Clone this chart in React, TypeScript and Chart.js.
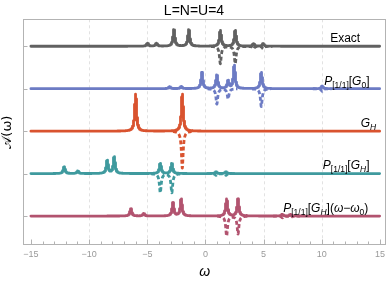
import React, { useEffect, useRef } from "react";
import { Chart, registerables } from "chart.js";
Chart.register(...registerables);

const chartTitle = "L=N=U=4";
const xAxisTitle = "ω";
const yAxisTitle = "𝒜(ω)";
const xTickValues = [-15, -10, -5, 0, 5, 10, 15];
const xGridValues = [-10, -5, 0, 5, 10];
const xMinorValues = [-15, -14, -13, -12, -11, -10, -9, -8, -7, -6, -5, -4, -3, -2, -1, 0, 1, 2, 3, 4, 5, 6, 7, 8, 9, 10, 11, 12, 13, 14, 15];
const yTickValues = [0, 1, 2, 3, 4];
const seriesOffsets = [4, 3, 2, 1, 0];
const seriesColors = ["#616161", "#6c7bc4", "#d9532f", "#3f9a9e", "#b2536f"];

// Exact
const exactUpPos = [-4.98, -4.21, -2.71, -1.43, 1.28, 2.56, 4.13, 4.96];
const exactUpHeight = [0.07, 0.07, 0.39, 0.39, 0.37, 0.37, 0.06, 0.06];
const exactDownPos = [1.28, 2.56, 4.13, 4.96];
const exactDownHeight = [0.41, 0.41, 0.06, 0.06];

// P[1/1][G0]
const g0UpPos = [-3.08, -2.08, -0.3, 0.98, 1.95, 2.48, 4.8, 10.03];
const g0UpHeight = [0.05, 0.05, 0.38, 0.32, 0.18, 0.55, 0.38, 0.06];
const g0DownPos = [0.98, 1.95, 4.8, 10.03];
const g0DownHeight = [0.36, 0.24, 0.42, 0.06];

// G_H
const ghUpPos = [-6.0, -1.99];
const ghUpHeight = [0.87, 0.87];
const ghDownPos = [-1.99];
const ghDownHeight = [0.87];

// P[1/1][G_H]
const pghUpPos = [-12.14, -10.97, -8.44, -7.84, -3.88, -2.89, 0.91, 1.77];
const pghUpHeight = [0.16, 0.06, 0.31, 0.39, 0.24, 0.24, 0.04, 0.04];
const pghDownPos = [-3.88, -2.89, 0.91, 1.77];
const pghDownHeight = [0.45, 0.45, 0.04, 0.04];

// P[1/1][G_H](ω-ω0)
const shUpPos = [-6.41, -5.3, -2.79, -2.08, 1.82, 2.8, 6.61, 7.32];
const shUpHeight = [0.17, 0.06, 0.31, 0.4, 0.4, 0.4, 0.04, 0.04];
const shDownPos = [1.82, 2.8, 6.61, 7.32];
const shDownHeight = [0.47, 0.42, 0.04, 0.04];

const upPositions = [exactUpPos, g0UpPos, ghUpPos, pghUpPos, shUpPos];
const upHeights = [exactUpHeight, g0UpHeight, ghUpHeight, pghUpHeight, shUpHeight];
const downPositions = [exactDownPos, g0DownPos, ghDownPos, pghDownPos, shDownPos];
const downHeights = [exactDownHeight, g0DownHeight, ghDownHeight, pghDownHeight, shDownHeight];

type Part = { t: string; it?: boolean; sub?: boolean };
const seriesLabels: Part[][] = [
  [{ t: "Exact" }],
  [{ t: "P", it: true }, { t: "[1/1]", sub: true }, { t: "[" }, { t: "G", it: true }, { t: "0", sub: true }, { t: "]" }],
  [{ t: "G", it: true }, { t: "H", it: true, sub: true }],
  [{ t: "P", it: true }, { t: "[1/1]", sub: true }, { t: "[" }, { t: "G", it: true }, { t: "H", it: true, sub: true }, { t: "]" }],
  [
    { t: "P", it: true }, { t: "[1/1]", sub: true }, { t: "[" }, { t: "G", it: true }, { t: "H", it: true, sub: true },
    { t: "](" }, { t: "ω", it: true }, { t: "−" }, { t: "ω", it: true }, { t: "0", sub: true }, { t: ")" },
  ],
];
// label anchor (right end x in ω units, vertical centre in y units)
const labelRightX = [13.3, 14.1, 14.67, 14.1, 14.0];
const labelCenterY = [4.19, 3.2, 2.19, 1.21, 0.2];

const X_MIN = -15.68;
const X_MAX = 15.56;
const Y_MIN = -0.682;
const Y_MAX = 4.635;
const GAMMA = 0.09;
const FONT = "'Liberation Sans', Arial, sans-serif";

function lor(x: number, pos: number[], h: number[]) {
  let s = 0;
  for (let i = 0; i < pos.length; i++) {
    const d = x - pos[i];
    s += (h[i] * GAMMA * GAMMA) / (d * d + GAMMA * GAMMA);
  }
  return s;
}

function xGrid(peaks: number[]) {
  const set = new Set<number>();
  for (let i = 0; i <= 1500; i++) set.add(Math.round((-15 + i * 0.02) * 1000) / 1000);
  for (const p of peaks) {
    for (let d = -0.8; d <= 0.8; d += 0.003) {
      const v = Math.round((p + d) * 1000) / 1000;
      if (v >= -15 && v <= 15) set.add(v);
    }
  }
  return Array.from(set).sort((a, b) => a - b);
}

function buildDatasets() {
  const ds: any[] = [];
  for (let s = 0; s < 5; s++) {
    const xs = xGrid(upPositions[s].concat(downPositions[s]));
    const off = seriesOffsets[s];
    const solid = xs.map((x) => ({ x, y: off + lor(x, upPositions[s], upHeights[s]) }));
    const dashed = xs.map((x) => {
      const near = downPositions[s].some((p) => Math.abs(x - p) <= 0.8);
      return { x, y: near ? off - lor(x, downPositions[s], downHeights[s]) : null };
    });
    ds.push({
      data: dashed,
      borderColor: seriesColors[s],
      borderWidth: 2.8,
      borderDash: [4, 2.5],
      pointRadius: 0,
      spanGaps: false,
      fill: false,
      tension: 0,
      borderJoinStyle: "round",
    });
    ds.push({
      data: solid,
      borderColor: seriesColors[s],
      borderWidth: 2.8,
      pointRadius: 0,
      fill: false,
      tension: 0,
      borderJoinStyle: "round",
      borderCapStyle: "round",
    });
  }
  return ds;
}

const decorPlugin = {
  id: "decor",
  beforeDatasetsDraw(chart: any) {
    const { ctx, chartArea: a, scales } = chart;
    const xs = scales.x;
    ctx.save();
    ctx.strokeStyle = "#e2e2e2";
    ctx.lineWidth = 1;
    ctx.setLineDash([3, 3]);
    for (const v of xGridValues) {
      const px = Math.round(xs.getPixelForValue(v)) + 0.5;
      ctx.beginPath();
      ctx.moveTo(px, a.top);
      ctx.lineTo(px, a.bottom);
      ctx.stroke();
    }
    ctx.restore();
  },
  afterDraw(chart: any) {
    const { ctx, chartArea: a, scales } = chart;
    const xs = scales.x;
    const ys = scales.y;
    ctx.save();
    ctx.strokeStyle = "#b3b3b3";
    ctx.lineWidth = 1;
    ctx.setLineDash([]);
    ctx.strokeRect(Math.round(a.left) + 0.5, Math.round(a.top) + 0.5, Math.round(a.right - a.left) - 1, Math.round(a.bottom - a.top) - 1);
    const bottom = Math.round(a.bottom) - 0.5;
    for (const v of xMinorValues) {
      const px = Math.round(xs.getPixelForValue(v)) + 0.5;
      const len = v % 5 === 0 ? 5 : 3;
      ctx.beginPath();
      ctx.moveTo(px, bottom);
      ctx.lineTo(px, bottom - len);
      ctx.stroke();
    }
    const left = Math.round(a.left) + 0.5;
    for (const v of yTickValues) {
      const py = Math.round(ys.getPixelForValue(v)) + 0.5;
      ctx.beginPath();
      ctx.moveTo(left, py);
      ctx.lineTo(left + 4, py);
      ctx.stroke();
    }
    // series labels
    const base = 12;
    const subSize = 8.5;
    for (let s = 0; s < 5; s++) {
      const parts = seriesLabels[s];
      const fontOf = (p: Part) => `${p.it ? "italic " : ""}${p.sub ? subSize : base}px ${FONT}`;
      let w = 0;
      for (const p of parts) {
        ctx.font = fontOf(p);
        w += ctx.measureText(p.t).width;
      }
      let x = xs.getPixelForValue(labelRightX[s]) - w;
      const yc = ys.getPixelForValue(labelCenterY[s]);
      ctx.fillStyle = "#000";
      ctx.textBaseline = "alphabetic";
      for (const p of parts) {
        ctx.font = fontOf(p);
        ctx.fillText(p.t, x, yc + 4.3 + (p.sub ? 3 : 0));
        x += ctx.measureText(p.t).width;
      }
    }
    ctx.restore();
  },
};

export default function App() {
  const ref = useRef<HTMLCanvasElement | null>(null);
  useEffect(() => {
    document.body.style.margin = "0";
    const canvas = ref.current!;
    const chart = new Chart(canvas, {
      type: "line",
      data: { datasets: buildDatasets() },
      options: {
        animation: false,
        responsive: false,
        devicePixelRatio: 1,
        layout: { padding: { left: 0, right: 1, top: 0, bottom: 0 } },
        plugins: {
          legend: { display: false },
          tooltip: { enabled: false },
          title: {
            display: true,
            text: chartTitle,
            color: "#000",
            font: { family: FONT, size: 14, weight: "normal" },
            padding: { top: 2.5, bottom: 0 },
          },
        },
        scales: {
          x: {
            type: "linear",
            min: X_MIN,
            max: X_MAX,
            grid: { display: false, drawTicks: false },
            border: { display: false },
            afterBuildTicks: (scale: any) => {
              scale.ticks = xTickValues.map((value) => ({ value }));
            },
            afterFit: (scale: any) => {
              scale.height = 37;
            },
            ticks: {
              autoSkip: false,
              maxRotation: 0,
              padding: 4,
              color: "#999",
              font: { family: FONT, size: 9 },
              callback: (v: any) => (v < 0 ? "−" + Math.abs(v) : String(v)),
            },
            title: {
              display: true,
              text: xAxisTitle,
              color: "#000",
              font: { family: FONT, size: 14, style: "italic" },
              padding: { top: 0, bottom: 1.6 },
            },
          },
          y: {
            type: "linear",
            min: Y_MIN,
            max: Y_MAX,
            grid: { display: false, drawTicks: false },
            border: { display: false },
            ticks: { display: false },
            afterFit: (scale: any) => {
              scale.width = 23;
            },
            title: {
              display: true,
              text: yAxisTitle,
              color: "#000",
              font: { family: "'DejaVu Sans', " + FONT, size: 13 },
              padding: { top: 0, bottom: 0 },
            },
          },
        },
      } as any,
      plugins: [decorPlugin],
    });
    return () => chart.destroy();
  }, []);
  return <canvas ref={ref} width={389} height={282} style={{ display: "block" }} />;
}
